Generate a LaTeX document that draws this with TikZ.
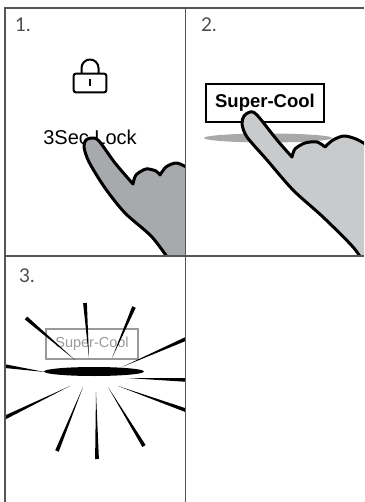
\documentclass[tikz,border=0pt]{standalone}
\usepackage{fontspec}
\setmainfont{Liberation Sans}
\newfontfamily\stepfont{Lato}
\usetikzlibrary{calc}

\definecolor{handgrey}{HTML}{A7A9AC}
\definecolor{handlight}{HTML}{C9CACC}
\definecolor{framegrey}{HTML}{555555}
\definecolor{ghost}{HTML}{9A9A9A}

\begin{document}
\begin{tikzpicture}[
  x=1pt, y=-1pt, % pixel units, y runs downwards
  frame/.style={draw=framegrey, line width=1.5pt},
  steplabel/.style={anchor=base west, inner sep=0pt, text=black!70, font=\stepfont\fontsize{19}{19}\selectfont},
  hand/.style={draw=black, line width=3pt, line join=round},
  lockline/.style={draw=black, line width=2pt}
]
\useasboundingbox (0,0) rectangle (364,502);

% step numbers
\node[steplabel] (num1) at (15,32) {1.};
\node[steplabel] (num2) at (201,32) {2.};
\node[steplabel] (num3) at (19,282) {3.};

% step 1: lock icon and label
\draw[lockline] (81.5,73) -- (81.5,68) arc (180:360:8.5) -- (98.5,73);
\draw[lockline, rounded corners=2pt] (73.7,73.7) rectangle (106.3,92.3);
\draw[line width=2.2pt] (90,79) -- (90,86);
\node[anchor=base, inner sep=0pt, font=\fontsize{20}{20}\selectfont] (locklabel) at (90,145) {3Sec Lock};

\begin{scope}
  \clip (5,8) rectangle (185.5,256);
  \draw[hand, fill=handgrey]
    plot[smooth] coordinates {(172,264) (152,237) (125,213) (105,188) (89,162) (84,147) (86,140) (92,138) (99,141) (115,163) (133,184)}
    -- plot[smooth] coordinates {(133,184) (136,175) (146,169) (156,171) (160,175)}
    -- plot[smooth] coordinates {(160,175) (166,167) (176,163) (186,167) (195,175)}
    -- (200,270) -- cycle;
\end{scope}

% step 2: pressed button
\fill[ghost!85] (268,138) ellipse [x radius=64, y radius=4.5];
\node[draw=black, line width=1.3pt, minimum width=118pt, minimum height=38pt, inner sep=0pt,
  font=\bfseries\fontsize{18.5}{18.5}\selectfont] (scbtn) at (265,103) {Super-Cool};

\begin{scope}
  \clip (185.5,8) rectangle (364,256);
  \draw[hand, fill=handlight]
    plot[smooth] coordinates {(366,266) (353,247) (323,217) (293,190) (267,160) (247,137) (242,124) (244,116) (250,112) (257,115) (277,140) (292,157)}
    -- plot[smooth] coordinates {(292,157) (295,149) (305,143) (317,142) (325,147)}
    -- plot[smooth] coordinates {(325,147) (333,140) (344,136) (356,139) (367,145)}
    -- (380,270) -- cycle;
\end{scope}

% step 3: button flashes
\node[draw=ghost, line width=1.2pt, text=ghost, minimum width=92pt, minimum height=30pt, inner sep=0pt,
  font=\fontsize{14.5}{14.5}\selectfont] (scghost) at (92,344) {Super-Cool};

\begin{scope}
  \clip (5,256) rectangle (185.5,502);
  \foreach \ix/\iy/\ox/\oy in {75/360/26/318, 89/358/85/303, 112/358/134/307, 122/367/188/338,
      45/372/4/366, 127/378/188/380, 70/386/4/418, 83/387/57/451,
      96/392/97/459, 108/387/144/446, 118/386/188/411}
    \fill (\ix,\iy) -- ($(\ox,\oy)!1.9pt!90:(\ix,\iy)$) -- ($(\ox,\oy)!1.9pt!-90:(\ix,\iy)$) -- cycle;
\end{scope}
\fill (94,371.5) ellipse [x radius=50, y radius=4.5];

% panel frame
\draw[frame] (5,502) -- (5,8) -- (364,8);
\draw[frame] (5,256) -- (364,256);
\draw[frame] (185.5,8) -- (185.5,502);

\end{tikzpicture}
\end{document}
